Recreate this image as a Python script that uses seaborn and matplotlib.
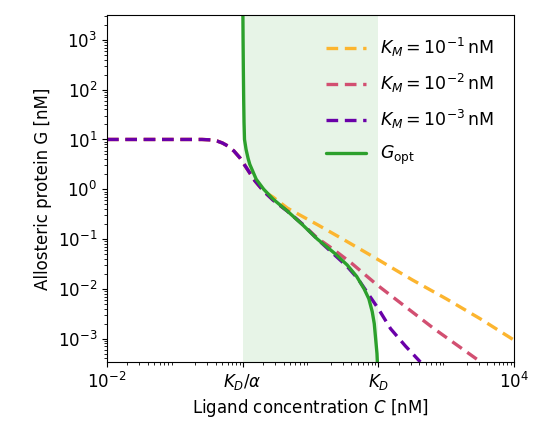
import numpy as np
import pandas as pd
import matplotlib
matplotlib.use("Agg")
import matplotlib.pyplot as plt
import seaborn as sns

# values (log10 of C and G)
plateau_lx = [-2.0, -1.0, -0.6, -0.45, -0.38, -0.3, -0.22]
plateau_ly = [1.0, 1.0, 1.0, 0.99, 0.97, 0.93, 0.87]
common_lx = [-0.13, -0.04, 0.07, 0.18, 0.31, 0.45, 0.66, 0.88, 1.1]
common_ly = [0.77, 0.63, 0.40, 0.17, -0.04, -0.22, -0.44, -0.70, -1.0]

km3_lx = plateau_lx + common_lx + [1.3, 1.54, 1.7, 1.84, 2.0, 2.18, 2.4, 2.62]
km3_ly = plateau_ly + common_ly + [-1.25, -1.55, -1.8, -2.08, -2.4, -2.8, -3.15, -3.47]
km2_lx = plateau_lx + common_lx + [1.34, 1.6, 1.98, 2.4, 2.82, 3.51]
km2_ly = plateau_ly + common_ly[:-1] + [-0.98, -1.21, -1.48, -1.92, -2.36, -2.8, -3.47]
km1_lx = plateau_lx + common_lx[:5] + [0.45, 0.66, 1.1, 1.5, 1.98, 2.5, 3.0, 3.5, 4.0]
km1_ly = plateau_ly + common_ly[:5] + [-0.16, -0.38, -0.71, -1.02, -1.40, -1.82, -2.2, -2.6, -3.03]
gopt_lx = [0.003, 0.006, 0.01, 0.015, 0.02, 0.027, 0.05, 0.08, 0.105, 0.2, 0.31, 0.45, 0.66,
           0.88, 1.1, 1.35, 1.54, 1.68, 1.79, 1.86, 1.91, 1.94, 1.96, 1.98, 1.99]
gopt_ly = [3.6, 3.0, 2.4, 1.8, 1.35, 1.0, 0.8, 0.62, 0.5, 0.2, 0.0, -0.2, -0.44,
           -0.71, -1.0, -1.28, -1.52, -1.75, -2.0, -2.2, -2.46, -2.7, -3.0, -3.3, -3.6]

labels = [r"$K_M = 10^{-1}\,$nM", r"$K_M = 10^{-2}\,$nM", r"$K_M = 10^{-3}\,$nM", r"$G_{\rm opt}$"]
colors = ["#fcb52f", "#d24f71", "#6a00a8", "#2ca02c"]

sns.set_style("ticks", {"axes.edgecolor": "black", "xtick.color": "black", "ytick.color": "black",
                        "text.color": "black", "axes.labelcolor": "black"})
fig = plt.figure(figsize=(5.47, 4.48), dpi=100)
ax = fig.add_axes([107/547, 1-362/448, (514-107)/547, (362-15)/448])
ax.axvspan(1, 100, color="#2ca02c", alpha=0.11, lw=0)

series = [(km1_lx, km1_ly), (km2_lx, km2_ly), (km3_lx, km3_ly), (gopt_lx, gopt_ly)]
for i, ((lx, ly), lab, col) in enumerate(zip(series, labels, colors)):
    df = pd.DataFrame({"C": 10**np.array(lx), "G": 10**np.array(ly)})
    sns.lineplot(data=df, x="C", y="G", ax=ax, color=col, lw=2.4,
                 linestyle="-" if i == 3 else (0, (3.5, 2)), label=lab, sort=False)

ax.set_xscale("log"); ax.set_yscale("log")
ax.set_xlim(1e-2, 1e4); ax.set_ylim(10**-3.47, 10**3.5)
ax.set_xticks([1e-2, 1, 100, 1e4])
ax.set_xticklabels([r"$10^{-2}$", r"$K_D/\alpha$", r"$K_D$", r"$10^{4}$"])
ax.set_yticks([10.0**k for k in range(-3, 4)])
ax.tick_params(labelsize=12)
ax.set_xlabel(r"Ligand concentration $C$ [nM]", fontsize=12)
ax.set_ylabel("Allosteric protein G [nM]", fontsize=12)
for s in ax.spines.values():
    s.set_visible(True)
ax.legend(frameon=False, fontsize=12.5, loc="upper right", handlelength=2.3,
          borderaxespad=0.8, labelspacing=0.75)
fig.savefig("out.png", dpi=100)
